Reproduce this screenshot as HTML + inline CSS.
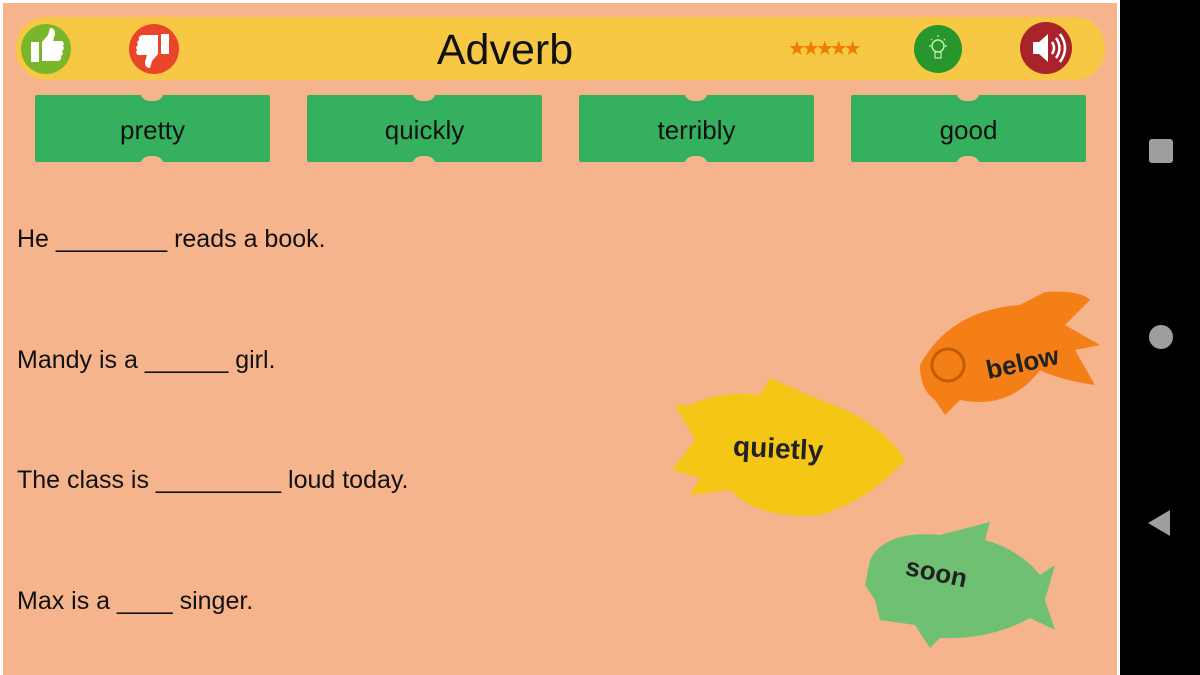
<!DOCTYPE html>
<html><head><meta charset="utf-8"><style>
body{margin:0;width:1200px;height:675px;overflow:hidden;background:#fff;position:relative;font-family:"Liberation Sans",sans-serif}
.main{position:absolute;left:3px;top:3px;width:1114px;height:672px;background:#f5b48c}
.side{position:absolute;left:1120px;top:0;width:80px;height:675px;background:#000}
.bar{position:absolute;left:16px;top:17px;width:1089px;height:63px;background:#f7c844;border-radius:30px}
.title{position:absolute;left:0;width:1010px;top:26px;text-align:center;font-size:43px;color:#111}
.tile{position:absolute;top:95px;width:235px;height:67px;background:#35b05e;text-align:center;line-height:70px;font-size:26px;color:#111;border-radius:2px}
.tile:before,.tile:after{content:"";position:absolute;left:105px;width:24px;height:10px;background:#f5b48c;border-radius:0 0 12px 12px;top:-4px}
.tile:after{top:auto;bottom:-4px;border-radius:12px 12px 0 0}
.s{position:absolute;left:17px;font-size:25px;color:#111}
.c{position:absolute;border-radius:50%}
</style></head><body>
<div class="main"></div>
<div class="side">
<div style="position:absolute;left:29px;top:139px;width:24px;height:24px;background:#9e9e9e;border-radius:3px"></div>
<div style="position:absolute;left:29px;top:325px;width:24px;height:24px;background:#9e9e9e;border-radius:50%"></div>
<div style="position:absolute;left:28px;top:510px;width:0;height:0;border-top:13px solid transparent;border-bottom:13px solid transparent;border-right:22px solid #9e9e9e"></div>
</div>
<div class="bar"></div>
<div class="c" style="left:21px;top:24px;width:50px;height:50px;background:#7ab62a"></div>
<div class="c" style="left:129px;top:24px;width:50px;height:50px;background:#e9452a"></div>
<div class="title">Adverb</div>
<div style="position:absolute;left:788px;top:36px;font-size:20px;color:#f07c00;letter-spacing:-4px">★★★★★</div>
<div class="c" style="left:914px;top:25px;width:48px;height:48px;background:#27962d"></div>
<div class="c" style="left:1020px;top:22px;width:52px;height:52px;background:#a8232a"></div>
<svg style="position:absolute;left:0;top:0" width="1200" height="675">
<!-- thumbs up -->
<rect x="31" y="42" width="8" height="20" fill="#fff"/>
<path d="M42 42 L48 35 L50 28 Q55 28 55 34 L53 41 L62 41 Q65 43 63 46 Q65 49 62 51 Q64 54 61 56 Q62 60 58 61 L42 61Z" fill="#fff"/>
<!-- thumbs down -->
<rect x="161" y="34" width="8" height="20" fill="#fff"/>
<path d="M158 54 L152 61 L150 68 Q145 68 145 62 L147 55 L138 55 Q135 53 137 50 Q135 47 138 45 Q136 42 139 40 Q138 36 142 35 L158 35Z" fill="#fff"/>
<!-- bulb -->
<circle cx="938" cy="46" r="6" fill="none" stroke="#c8f0b0" stroke-width="1.5"/>
<rect x="935" y="52" width="6" height="6" fill="none" stroke="#c8f0b0" stroke-width="1.2"/>
<path d="M938 35 V37 M929 46 H931 M945 46 H947 M931 39 L932 40 M945 39 L944 40" stroke="#c8f0b0" stroke-width="1.2"/>
<!-- speaker -->
<path d="M1033 42 H1039 L1048 34 V62 L1039 54 H1033Z" fill="#fff"/>
<path d="M1052 42 Q1056 48 1052 54 M1056 38 Q1063 48 1056 58 M1060 34 Q1070 48 1060 62" stroke="#fff" stroke-width="2.5" fill="none"/>
</svg>
<div class="tile" style="left:35px">pretty</div>
<div class="tile" style="left:307px">quickly</div>
<div class="tile" style="left:579px">terribly</div>
<div class="tile" style="left:851px">good</div>
<div class="s" style="top:225px">He ________ reads a book.</div>
<div class="s" style="top:346px">Mandy is a ______ girl.</div>
<div class="s" style="top:466px">The class is _________ loud today.</div>
<div class="s" style="top:587px">Max is a ____ singer.</div>
<svg style="position:absolute;left:0;top:0" width="1200" height="675">
<path d="M920 365 Q950 310 1020 305 L1045 292 Q1080 290 1090 300 L1065 325 L1100 345 L1075 350 L1095 385 Q1060 380 1040 370 Q1010 410 960 400 L945 415 L935 400 Q920 390 920 365Z" fill="#f37f16"/>
<circle cx="948" cy="365" r="16" fill="none" stroke="#c55a00" stroke-width="3"/>
<text x="985" y="372" font-family="Liberation Sans" font-weight="bold" font-size="26" fill="#222" transform="rotate(-12 1020 360)">below</text>
<path d="M690 405 L675 405 L695 440 L672 470 L700 478 L690 495 L730 490 Q760 520 820 515 Q870 500 905 460 Q880 420 820 400 L770 378 L760 395 Q720 390 690 405Z" fill="#f6c616"/>
<text x="733" y="458" font-family="Liberation Sans" font-weight="bold" font-size="28" fill="#222" transform="rotate(3 780 450)">quietly</text>
<path d="M870 560 Q885 530 940 535 L990 522 L985 540 Q1020 550 1040 575 L1055 565 L1045 600 L1055 630 L1030 618 Q990 640 940 638 L930 648 L915 625 L880 620 L875 600 L865 585Z" fill="#6fc072"/>
<text x="905" y="582" font-family="Liberation Sans" font-weight="bold" font-size="26" fill="#222" transform="rotate(12 940 575)">soon</text>
</svg>
</body></html>
